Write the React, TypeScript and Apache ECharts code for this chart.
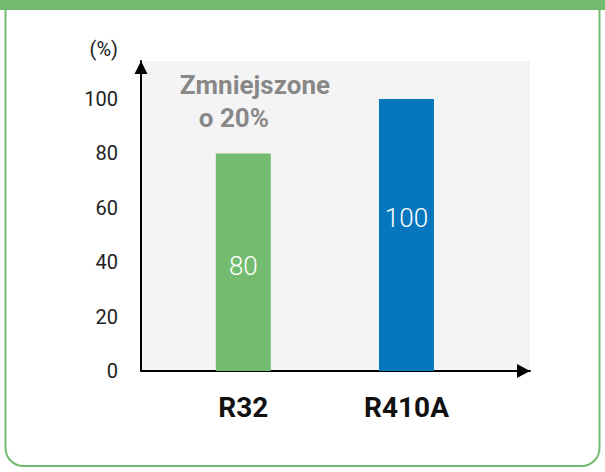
import React, { useEffect, useRef } from "react";
import * as echarts from "echarts";

const categories = ["R32", "R410A"];
const positions = [1, 2];
const values = [80, 100];
const barColors = ["#73bb6f", "#0677bd"];
const labelOffsets = [4, -17];
const yTicks = [0, 20, 40, 60, 80, 100];
const noteText = ["Zmniejszone", "o 20%"];
const notePoint = [1.071, 99.1];

export default function App() {
  const ref = useRef<HTMLDivElement>(null);
  useEffect(() => {
    document.body.style.margin = "0";
    const chart = echarts.init(ref.current!, null, { renderer: "svg" });
    const font = "Roboto, 'DejaVu Sans', sans-serif";
    chart.setOption({
      animation: false,
      textStyle: { fontFamily: font },
      grid: {
        left: 141,
        right: 75,
        top: 61,
        bottom: 101,
        show: true,
        backgroundColor: "#f4f4f4",
        borderWidth: 0,
      },
      xAxis: {
        type: "value",
        min: 0.373,
        max: 2.757,
        splitLine: { show: false },
        axisTick: { show: false },
        axisLine: {
          show: true,
          lineStyle: { color: "#000", width: 2 },
          symbol: ["none", "triangle"],
          symbolSize: [14, 13],
          symbolOffset: [0, -6.5],
        },
        axisLabel: {
          customValues: positions,
          formatter: (v: number) => categories[positions.indexOf(Math.round(v))] ?? "",
          fontSize: 28,
          fontWeight: "bold",
          color: "#111",
          margin: 22,
          fontFamily: font,
        },
      },
      yAxis: {
        type: "value",
        min: 0,
        max: 114,
        interval: 20,
        name: "(%)",
        nameLocation: "end",
        nameGap: 2,
        nameTextStyle: {
          fontSize: 20,
          color: "#222",
          align: "right",
          verticalAlign: "bottom",
          padding: [0, 23, 0, 0],
          fontFamily: font,
        },
        splitLine: { show: false },
        axisTick: { show: false },
        axisLine: {
          show: true,
          lineStyle: { color: "#000", width: 2 },
          symbol: ["none", "triangle"],
          symbolSize: [13, 13],
          symbolOffset: [0, -6.5],
        },
        axisLabel: {
          formatter: (v: number) => (yTicks.includes(v) ? String(v) : ""),
          fontSize: 20,
          color: "#222",
          margin: 23,
          fontFamily: font,
        },
      },
      series: [
        {
          type: "bar",
          barWidth: 55,
          data: values.map((v, i) => ({
            value: [positions[i], v],
            itemStyle: { color: barColors[i] },
            label: {
              show: true,
              position: "inside",
              offset: [0, labelOffsets[i]],
              color: "#fff",
              fontSize: 26,
              fontWeight: 300,
              fontFamily: font,
              formatter: String(v),
            },
          })),
        },
        {
          type: "scatter",
          symbolSize: 0,
          silent: true,
          data: [notePoint],
          label: {
            show: true,
            position: "inside",
            formatter: `{a|${noteText[0]}}\n{b|${noteText[1]}}`,
            rich: {
              a: { fontSize: 26, fontWeight: "bold", color: "#6b6b6b", lineHeight: 33, align: "left", fontFamily: font },
              b: { fontSize: 26, fontWeight: "bold", color: "#6b6b6b", lineHeight: 33, align: "left", padding: [0, 0, 0, 19], fontFamily: font },
            },
          },
        },
      ],
      graphic: [
        {
          type: "rect",
          shape: { x: 5.5, y: -30, width: 594, height: 496, r: 18 },
          style: { fill: "none", stroke: "#74bb6f", lineWidth: 2 },
          silent: true,
        },
        {
          type: "rect",
          shape: { x: 0, y: 0, width: 605, height: 10 },
          style: { fill: "#73bb6f" },
          silent: true,
        },
      ],
    });
    return () => chart.dispose();
  }, []);
  return <div ref={ref} style={{ width: 605, height: 472 }} />;
}
